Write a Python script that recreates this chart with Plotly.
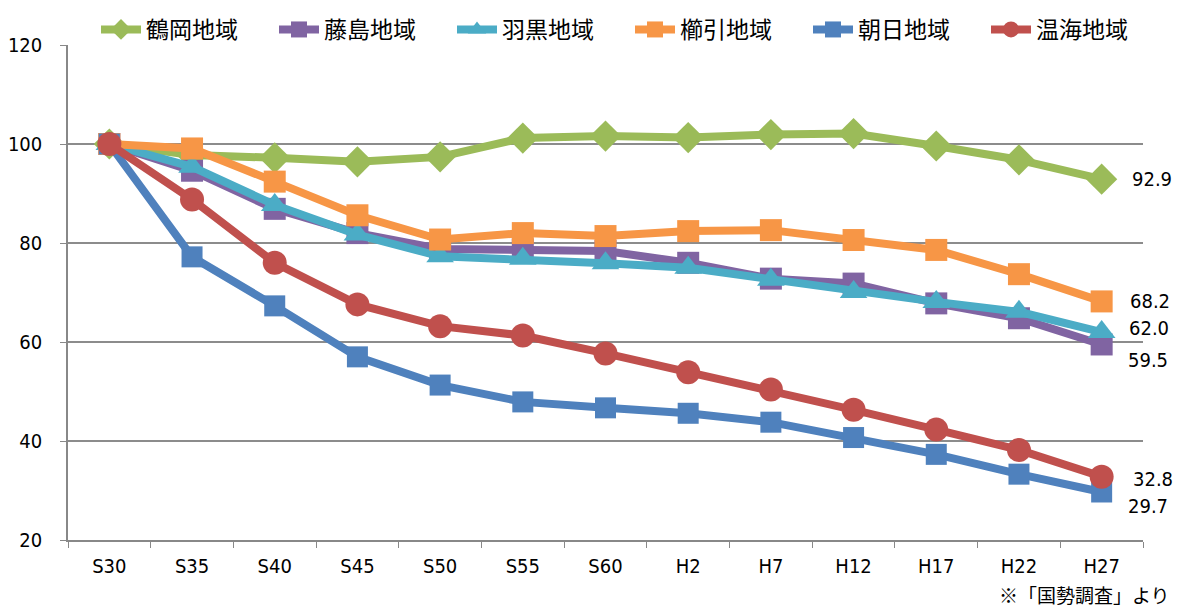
import plotly.graph_objects as go

categories = ["S30", "S35", "S40", "S45", "S50", "S55", "S60", "H2", "H7", "H12", "H17", "H22", "H27"]

tsuruoka = [100, 97.8, 97.2, 96.4, 97.4, 101.2, 101.6, 101.3, 101.9, 102.1, 99.6, 96.8, 92.9]
fujishima = [100, 94.6, 86.9, 82.0, 78.8, 78.7, 78.4, 76.0, 72.8, 71.8, 67.8, 64.8, 59.5]
haguro = [100, 95.4, 87.7, 81.7, 77.3, 76.8, 75.9, 75.0, 72.6, 70.1, 68.1, 66.1, 62.0]
kushibiki = [100, 99.1, 92.4, 85.6, 80.7, 82.0, 81.4, 82.4, 82.6, 80.6, 78.6, 73.7, 68.2]
asahi = [100, 77.2, 67.3, 57.0, 51.3, 47.9, 46.7, 45.6, 43.8, 40.7, 37.3, 33.3, 29.7]
atsumi = [100, 88.8, 76.0, 67.6, 63.2, 61.3, 57.7, 53.9, 50.4, 46.3, 42.3, 38.2, 32.8]

series_names = ["鶴岡地域", "藤島地域", "羽黒地域", "櫛引地域", "朝日地域", "温海地域"]
series_values = [tsuruoka, fujishima, haguro, kushibiki, asahi, atsumi]
series_colors = ["#9BBB59", "#8064A2", "#4BACC6", "#F79646", "#4F81BD", "#C0504D"]
series_symbols = ["diamond", "square", "triangle-up", "square", "square", "circle"]
marker_sizes = [24, 22, 24, 22, 21, 24]
label_shift = [(28, 0), (24, -16), (25, 4), (26, 0), (24, -14), (29, -2)]

y_ticks = [20, 40, 60, 80, 100, 120]

label_font = "DejaVu Sans Condensed, Liberation Sans Narrow, Liberation Sans, sans-serif"
jp_font = "Noto Sans CJK JP, sans-serif"

# page has an 8px body margin; the layout compensates for it
fig = go.Figure()
for name, vals, col, sym, ms in zip(series_names, series_values, series_colors, series_symbols, marker_sizes):
    fig.add_trace(go.Scatter(
        x=categories, y=vals, name=name, mode="lines+markers",
        line=dict(color=col, width=8),
        marker=dict(symbol=sym, size=ms, color=col),
    ))

for name, vals, (dx, dy) in zip(series_names, series_values, label_shift):
    fig.add_annotation(
        x=categories[-1], y=vals[-1], text=f"{vals[-1]:.1f}", showarrow=False,
        xanchor="left", yanchor="middle", xshift=dx, yshift=dy,
        font=dict(family=label_font, size=20, color="#000"),
    )

fig.add_annotation(
    x=(1172 - 68) / (1143 - 68), y=-(594 - 540) / (540 - 45),
    xref="paper", yref="paper", text="※「国勢調査」より",
    showarrow=False, xanchor="right", yanchor="middle",
    font=dict(family=jp_font, size=19, color="#000"),
)

fig.update_layout(
    width=1182, height=610,
    margin=dict(l=60, r=47, t=37, b=78, autoexpand=False),
    paper_bgcolor="white", plot_bgcolor="white",
    showlegend=True,
    legend=dict(
        orientation="h", xref="container", yref="container",
        x=88 / 1182, xanchor="left", y=1.0, yanchor="top",
        font=dict(family=jp_font, size=23, color="#000"),
        itemwidth=40, entrywidth=123, traceorder="normal",
        bgcolor="rgba(0,0,0,0)",
    ),
    xaxis=dict(
        type="category", categoryorder="array", categoryarray=categories,
        tickson="boundaries", ticks="outside", ticklen=6, tickcolor="#888",
        showline=True, linecolor="#888", linewidth=1.5,
        showgrid=False, range=[-0.5, len(categories) - 0.5],
        tickfont=dict(family=label_font, size=20, color="#000"),
        ticklabelstandoff=7, automargin=False,
    ),
    yaxis=dict(
        range=[20, 120], tickvals=y_ticks, ticktext=[str(v) for v in y_ticks],
        showgrid=True, gridcolor="#8c8c8c", gridwidth=1.5,
        showline=True, linecolor="#888", linewidth=1.5,
        ticks="outside", ticklen=6, tickcolor="#888",
        tickfont=dict(family=label_font, size=20, color="#000"),
        ticklabelstandoff=14, zeroline=False, automargin=False,
    ),
)

fig.write_html("out.html")
